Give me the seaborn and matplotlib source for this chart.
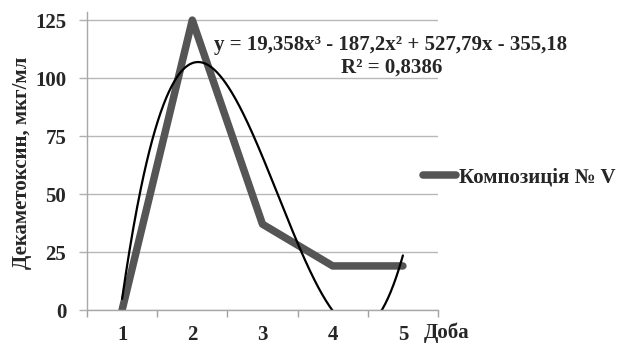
import numpy as np
import pandas as pd
import matplotlib
matplotlib.use("Agg")
import matplotlib.pyplot as plt
import seaborn as sns

days = [1, 2, 3, 4, 5]
day_labels = ["1", "2", "3", "4", "5"]
values = [0, 125, 37, 19, 19]
trend_coefs = [19.358, -187.2, 527.79, -355.18]
series_name = "Композиція № V"
eq_text = "y = 19,358x³ - 187,2x² + 527,79x - 355,18"
r2_text = "R² = 0,8386"
y_ticks = [0, 25, 50, 75, 100, 125]

sns.set_theme(style="white")
plt.rcParams['font.family'] = ['Liberation Serif', 'DejaVu Serif']
plt.rcParams['font.weight'] = 'bold'
FS = 15

fig = plt.figure(figsize=(6.26, 3.46), dpi=100)
ax = fig.add_axes([87/626, 1-310/346, 351/626, 298/346])

df = pd.DataFrame({"day": days, "value": values})
xs = np.linspace(1, 5, 300)
trend = pd.DataFrame({"day": xs, "value": np.polyval(trend_coefs, xs)})

sns.lineplot(data=df, x="day", y="value", ax=ax, color="#555555", linewidth=5.4,
             label=series_name, solid_capstyle="round", solid_joinstyle="round")
sns.lineplot(data=trend, x="day", y="value", ax=ax, color="black", linewidth=1.6,
             label="_nolegend_")

ax.set_xlim(0.5, 5.5)
ax.set_ylim(0, 128.5)
ax.set_yticks(y_ticks)
ax.set_yticklabels([str(t) for t in y_ticks], fontsize=FS, fontweight='bold')
ax.set_xticks(days)
ax.set_xticklabels(day_labels, fontsize=FS, fontweight='bold')
ax.set_xticks(np.arange(0.5, 6.0, 1.0), minor=True)
ax.tick_params(axis='x', which='major', length=0, pad=11)
ax.tick_params(axis='x', which='minor', length=5, width=1, color="#a0a0a0", direction='out', bottom=True)
ax.tick_params(axis='y', which='major', length=6, width=1, color="#b0b0b0", direction='out', left=True, pad=9)
ax.grid(axis='y', color="#b8b8b8", linewidth=1)
ax.set_axisbelow(True)
for s in ["top", "right"]:
    ax.spines[s].set_visible(False)
for s in ["left", "bottom"]:
    ax.spines[s].set_color("#a8a8a8")
    ax.spines[s].set_linewidth(1)

ax.set_xlabel("")
ax.set_ylabel("")
fig.text(22/626, 1-163/346, "Декаметоксин, мкг/мл", fontsize=FS, fontweight='bold',
         rotation=90, ha='center', va='center')
fig.text(424/626, 1-333/346, "Доба", fontsize=FS, fontweight='bold', va='center', ha='left')

fig.text(391/626, 1-45/346, eq_text, fontsize=FS, fontweight='bold', ha='center', va='center')
fig.text(392/626, 1-68/346, r2_text, fontsize=FS, fontweight='bold', ha='center', va='center')

leg = ax.legend(loc='center left', bbox_to_anchor=(423/626, 1-177/346), bbox_transform=fig.transFigure,
                frameon=False, fontsize=FS, handlelength=1.6, handletextpad=0.15, borderpad=0,
                borderaxespad=0)
for t in leg.get_texts():
    t.set_fontweight('bold')

fig.savefig("out.png", dpi=100)
